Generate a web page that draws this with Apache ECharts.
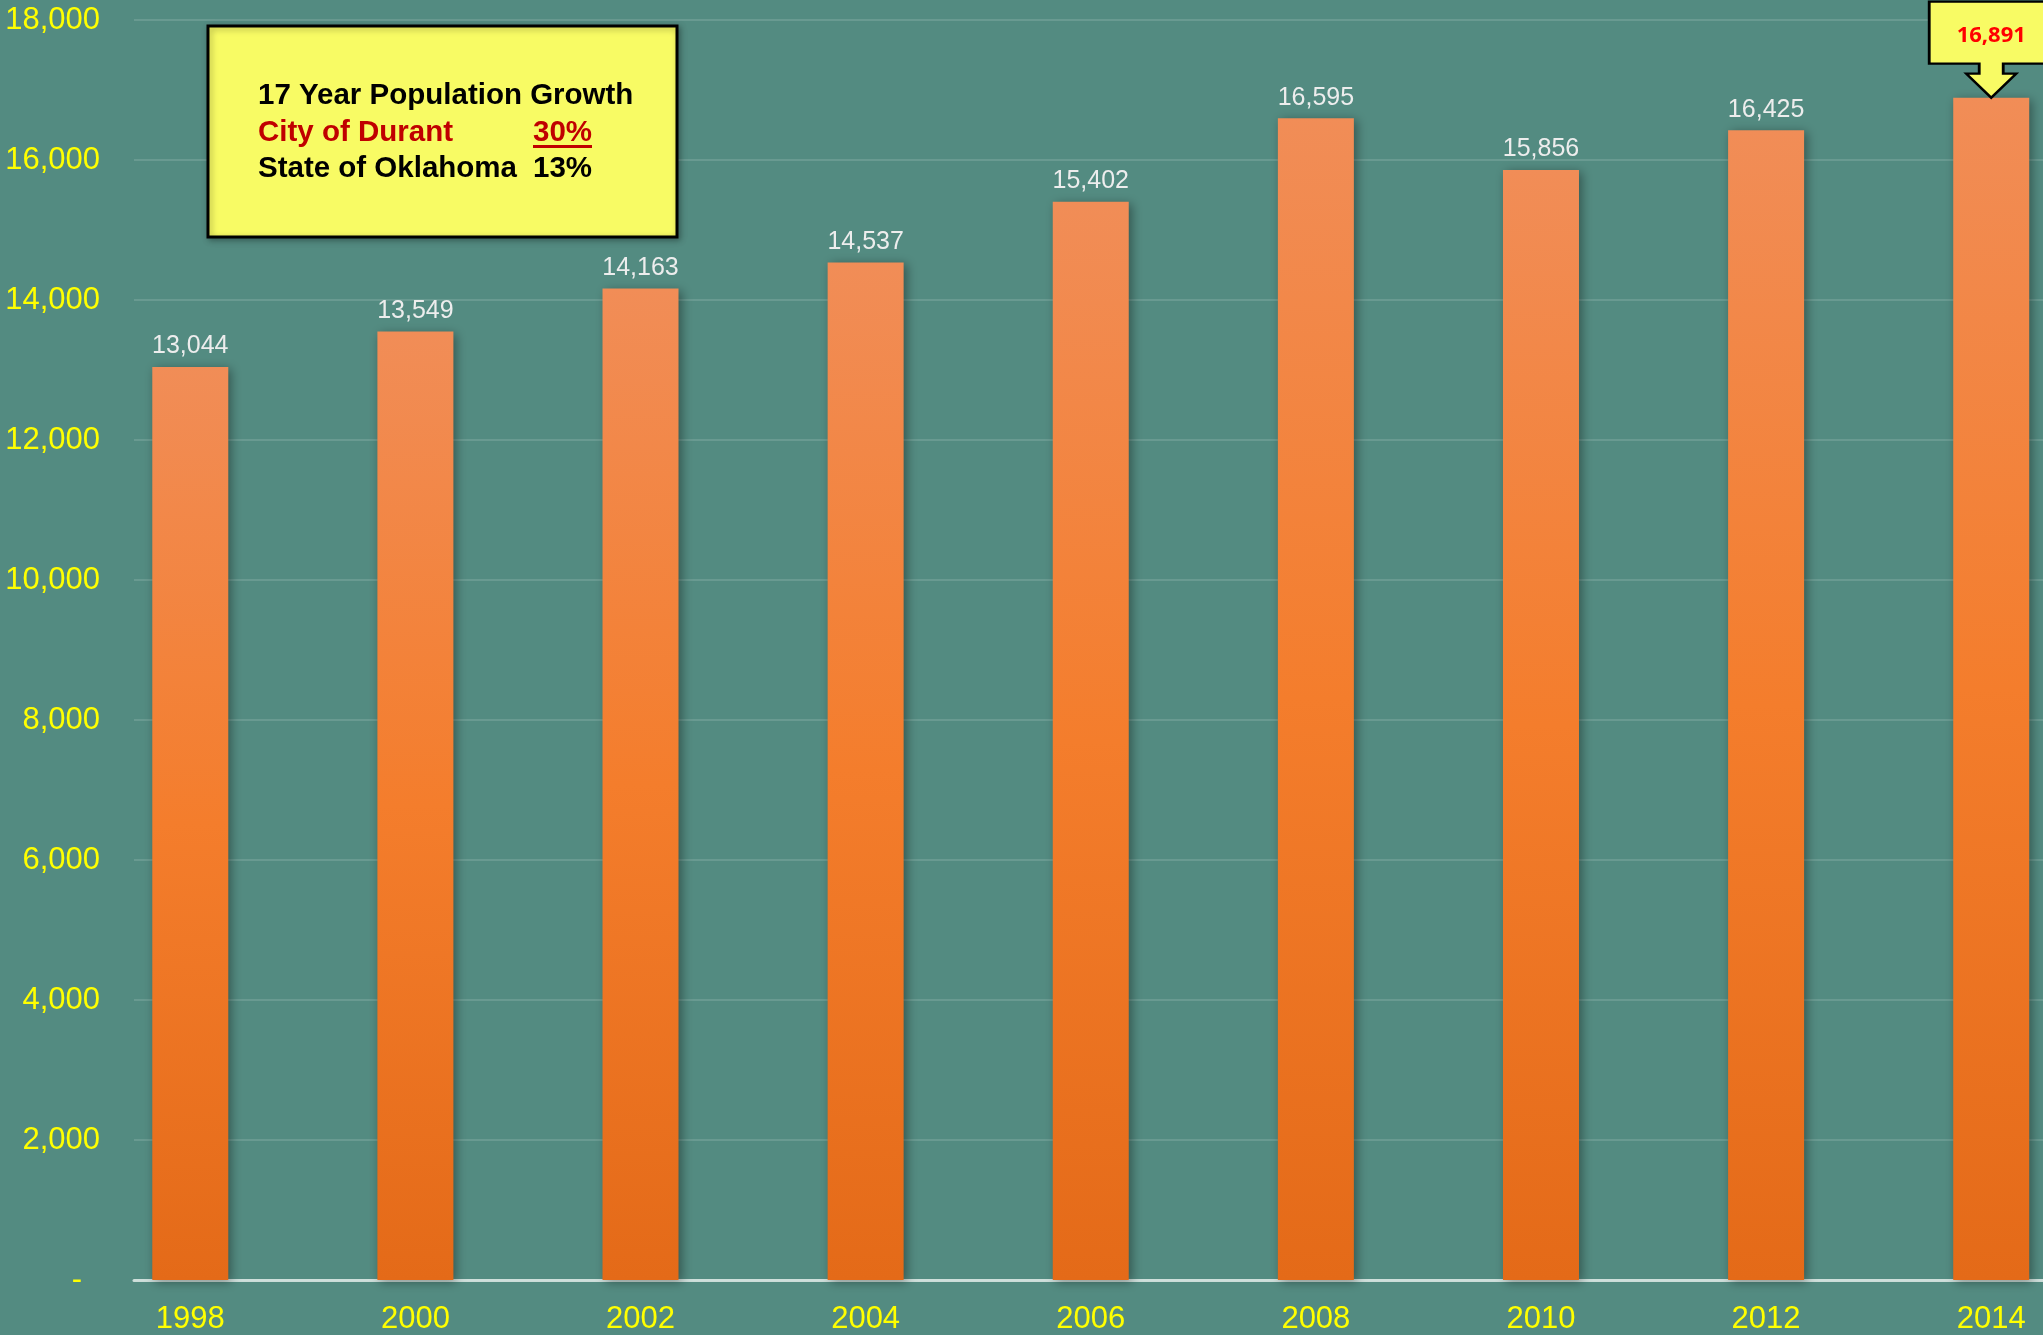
<!DOCTYPE html>
<html>
<head>
<meta charset="utf-8">
<script src="https://cdn.jsdelivr.net/npm/echarts@6/dist/echarts.min.js"></script>
<style>
html,body{margin:0;padding:0;background:#538B81;}
#chart{width:2043px;height:1335px;}
</style>
</head>
<body>
<div id="chart"></div>
<script>
const years = [1998, 2000, 2002, 2004, 2006, 2008, 2010, 2012, 2014];
const population = [13044, 13549, 14163, 14537, 15402, 16595, 15856, 16425, 16891];
const yTicks = [0, 2000, 4000, 6000, 8000, 10000, 12000, 14000, 16000, 18000];
const boxTitle = '17 Year Population Growth';
const boxRows = [
  { name: 'City of Durant', pct: '30%' },
  { name: 'State of Oklahoma', pct: '13%' }
];

const fmt = v => v.toLocaleString('en-US');
const last = years.length - 1;

const seriesData = years.map((y, i) => {
  const item = { value: [y, population[i]] };
  if (i === last) item.label = { show: false };
  return item;
});

const boxFont = 'bold 29.5px "Liberation Sans", Arial, sans-serif';

const chart = echarts.init(document.getElementById('chart'));
chart.setOption({
  backgroundColor: '#538B81',
  animation: false,
  grid: { left: 134, right: 0, top: 20, bottom: 54 },
  xAxis: {
    type: 'value',
    min: 1997.5,
    max: 2014.46,
    axisLine: { show: true, lineStyle: { color: 'rgba(225,235,232,0.85)', width: 3 } },
    axisTick: { show: false },
    splitLine: { show: false },
    axisLabel: {
      customValues: years,
      color: '#FFFF00',
      fontFamily: 'Liberation Sans, Arial, sans-serif',
      fontSize: 31,
      margin: 24,
      formatter: v => String(v)
    }
  },
  yAxis: {
    type: 'value',
    min: yTicks[0],
    max: yTicks[yTicks.length - 1],
    interval: 2000,
    axisLine: { show: false },
    axisTick: { show: false },
    splitLine: { lineStyle: { color: 'rgba(255,255,255,0.13)', width: 2 } },
    axisLabel: {
      color: '#FFFF00',
      fontFamily: 'Liberation Sans, Arial, sans-serif',
      fontSize: 31,
      margin: 34,
      formatter: v => v === 0 ? '{z|-}' : fmt(v),
      rich: { z: { color: '#FFFF00', fontSize: 31, fontFamily: 'Liberation Sans, Arial, sans-serif', padding: [0, 18, 0, 0] } }
    }
  },
  series: [{
    type: 'bar',
    data: seriesData,
    barWidth: 76,
    itemStyle: {
      color: new echarts.graphic.LinearGradient(0, 0, 0, 1, [
        { offset: 0, color: '#F18D57' },
        { offset: 0.5, color: '#F47D2C' },
        { offset: 1, color: '#E46A18' }
      ]),
      shadowColor: 'rgba(0,0,0,0.38)',
      shadowBlur: 10,
      shadowOffsetX: 3,
      shadowOffsetY: 2
    },
    label: {
      show: true,
      position: 'top',
      distance: 8,
      color: '#EDEDED',
      fontFamily: 'Liberation Sans Narrow, Arial Narrow, Liberation Sans, sans-serif',
      fontSize: 25,
      formatter: p => fmt(p.value[1])
    },
    markPoint: {
      symbol: 'path://M0,0 L124,0 L124,62 L74,62 L74,72 L87,72 L62,96 L37,72 L50,72 L50,62 L0,62 Z',
      symbolSize: [124, 96],
      symbolKeepAspect: false,
      symbolOffset: [0, -48],
      itemStyle: { color: '#F8FB64', borderColor: '#000', borderWidth: 2.5 },
      label: {
        show: true,
        position: 'inside',
        offset: [0, -14],
        color: '#FF0000',
        fontFamily: 'Open Sans, sans-serif',
        fontWeight: 'bold',
        fontSize: 22,
        formatter: p => fmt(p.value)
      },
      data: [{ coord: [years[last], population[last]], value: population[last] }]
    }
  }],
  graphic: [
    { type: 'rect', shape: { x: 208, y: 26, width: 469, height: 211 },
      style: { fill: '#F8FB64', stroke: '#000', lineWidth: 3, shadowBlur: 6, shadowColor: 'rgba(0,0,0,0.3)', shadowOffsetX: 2, shadowOffsetY: 2 }, z: 10 },
    { type: 'text', x: 258, y: 96, z: 11,
      style: { text: boxTitle, fill: '#000', font: boxFont, textVerticalAlign: 'middle' } },
    { type: 'text', x: 258, y: 133, z: 11,
      style: { text: boxRows[0].name, fill: '#C00000', font: boxFont, textVerticalAlign: 'middle' } },
    { type: 'text', x: 533, y: 133, z: 11,
      style: { text: boxRows[0].pct, fill: '#C00000', font: boxFont, textVerticalAlign: 'middle' } },
    { type: 'rect', shape: { x: 533, y: 145, width: 59, height: 3 }, style: { fill: '#C00000' }, z: 11 },
    { type: 'text', x: 258, y: 169, z: 11,
      style: { text: boxRows[1].name, fill: '#000', font: boxFont, textVerticalAlign: 'middle' } },
    { type: 'text', x: 533, y: 169, z: 11,
      style: { text: boxRows[1].pct, fill: '#000', font: boxFont, textVerticalAlign: 'middle' } }
  ]
});
</script>
</body>
</html>
